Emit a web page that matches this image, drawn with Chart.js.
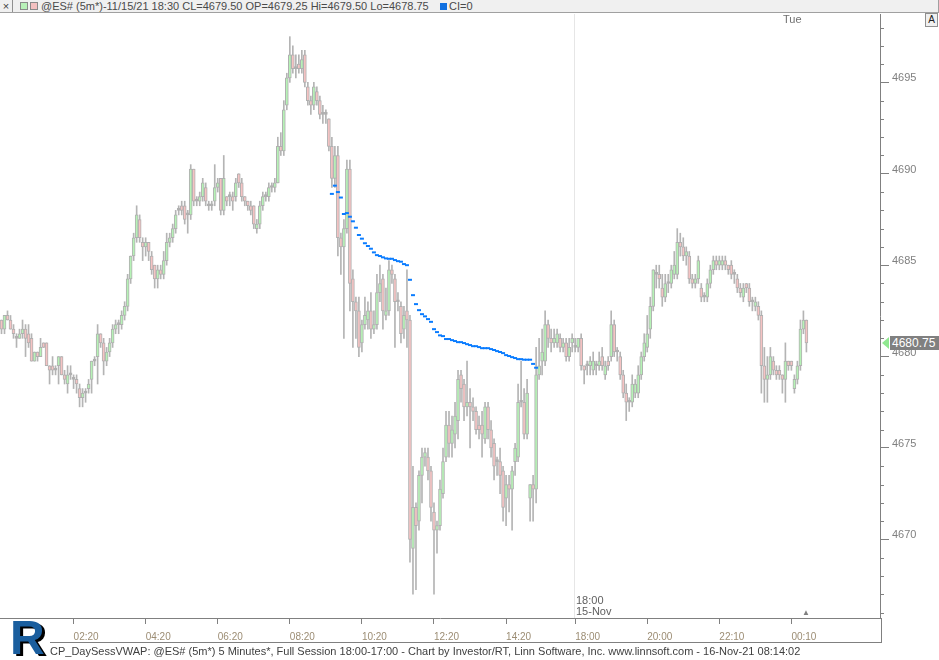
<!DOCTYPE html>
<html>
<head>
<meta charset="utf-8">
<title>@ES# 5 Minutes</title>
<script src="https://cdn.jsdelivr.net/npm/chart.js@4.4.0/dist/chart.umd.min.js"></script>
<style>
body { margin: 0; background: #fff; font-family: "Liberation Sans", Arial, sans-serif; }
#wrap { position: relative; width: 939px; height: 660px; overflow: hidden; }
#chart { position: absolute; left: 0; top: 0; }
.abs { position: absolute; white-space: nowrap; }
#hdr { left: 0; top: 0; width: 938px; height: 12px; background: #f0f0f0; border-bottom: 1px solid #a0a0a0; border-right: 1px solid #a0a0a0; }
#xbox { left: 0; top: 0; width: 12px; height: 12px; border-right: 1px solid #909090; font-size: 11px; line-height: 12px; text-align: center; color: #404040; }
.sq { top: 2px; width: 6px; height: 6px; border: 1px solid #8a8a8a; }
#htext { left: 41px; top: 0; font-size: 11px; line-height: 12px; color: #4a4a4a; }
#ci { left: 449px; top: 0; font-size: 11px; line-height: 12px; color: #4a4a4a; }
#abtn { left: 925px; top: 13px; width: 11px; height: 12px; border: 1px solid #909090; background: #f0f0f0; font-size: 10px; line-height: 12px; text-align: center; color: #202020; }
#tue { left: 783px; top: 13px; font-size: 11px; color: #707070; }
.sess { left: 576px; font-size: 11px; color: #606060; }
#tag { left: 890px; width: 49px; height: 14px; background: #808080; color: #fff; font-size: 12px; line-height: 14px; padding-left: 2px; }
#tri { left: 882px; width: 0; height: 0; border-top: 6px solid transparent; border-bottom: 6px solid transparent; border-right: 7px solid #90e890; }
#axbox { left: 50px; top: 618px; width: 831px; height: 24px; border-right: 1px solid #808080; border-bottom: 1px solid #808080; }
#footer { left: 50px; top: 645px; font-size: 11px; color: #404040; }
#logo { left: 10px; top: 614px; font-size: 48px; font-weight: bold; color: #1a5e9e; text-shadow: 3px 2px 0 #000; line-height: 48px; }
#mark { left: 802px; top: 608px; font-size: 8px; color: #808080; }
</style>
</head>
<body>
<div id="wrap">
  <canvas id="chart" width="939" height="660"></canvas>
  <div id="hdr" class="abs"></div>
  <div id="xbox" class="abs">×</div>
  <div class="abs sq" style="left:20px;background:#b8f0b8"></div>
  <div class="abs sq" style="left:30px;background:#f4c0c0"></div>
  <div id="htext" class="abs">@ES# (5m*)-11/15/21 18:30 CL=4679.50 OP=4679.25 Hi=4679.50 Lo=4678.75</div>
  <div class="abs" style="left:440px;top:3px;width:7px;height:7px;background:#1070e0"></div>
  <div id="ci" class="abs">CI=0</div>
  <div id="abtn" class="abs">A</div>
  <div id="tue" class="abs">Tue</div>
  <div class="abs sess" style="top:594px">18:00</div>
  <div class="abs sess" style="top:605px">15-Nov</div>
  <div id="mark" class="abs">▲</div>
  <div id="tri" class="abs"></div>
  <div id="tag" class="abs"></div>
  <div id="axbox" class="abs"></div>
  <div id="logo" class="abs">R</div>
  <div id="footer" class="abs">CP_DaySessVWAP: @ES# (5m*) 5 Minutes*, Full Session 18:00-17:00 - Chart by Investor/RT, Linn Software, Inc. www.linnsoft.com - 16-Nov-21 08:14:02</div>
</div>
<script>
// session blocks of 5 minute bars: start time and bar count
const sessionStarts = ['00:20', '18:00', '20:15'];
const sessionBars = [191, 25, 77];
const tickLabels = ['02:20', '04:20', '06:20', '08:20', '10:20', '12:20', '14:20', '18:00', '20:00', '22:10', '00:10'];

const open = [
4682, 4681.5, 4682.25, 4682, 4681.5, 4681, 4681, 4681.25, 4681.5, 4681.25,
4681, 4679.75, 4680.25, 4680, 4680.75, 4680.75, 4679.5, 4679.5, 4679.25, 4679.5,
4680, 4679, 4678.5, 4679, 4678.75, 4678.75, 4678.25, 4677.75, 4678, 4678.25,
4678.75, 4679.75, 4680, 4681.25, 4680.75, 4679.75, 4680.25, 4680.75, 4681.5, 4681.75,
4681.75, 4682.25, 4682.75, 4684.25, 4685.5, 4686.5, 4687.5, 4686.25, 4686, 4686.25,
4685.5, 4685, 4684.25, 4684.75, 4684.5, 4685.25, 4686.25, 4686.5, 4687, 4688,
4688.25, 4688.25, 4687.75, 4687.75, 4690.25, 4688.5, 4688.5, 4688.75, 4689.25, 4688.25,
4688.25, 4688.5, 4689.25, 4689.75, 4688, 4688.75, 4688.75, 4688.75, 4688.75, 4690,
4689.5, 4688.75, 4688.5, 4688.25, 4688.25, 4687, 4687.25, 4688.25, 4688.75, 4688.75,
4689.25, 4689.25, 4689.5, 4691.5, 4691.25, 4693.75, 4695.25, 4696.5, 4695.75, 4696,
4695.75, 4696.5, 4694.75, 4694, 4693.75, 4694.5, 4694, 4693.25, 4693.25, 4693,
4691.5, 4689.75, 4691, 4686.5, 4686, 4687, 4690.25, 4684.25, 4683, 4682.5,
4680.75, 4681.75, 4682, 4682.5, 4681.5, 4681.75, 4683.5, 4684.25, 4682.25, 4682.5,
4684.75, 4684.25, 4683, 4682.75, 4681.5, 4682.5, 4682, 4669.5, 4671.75, 4671,
4673.5, 4674.5, 4674.5, 4673.75, 4671.5, 4670.5, 4670.75, 4672.5, 4674.5, 4676.25,
4675.25, 4675.75, 4676.5, 4679, 4678.5, 4677.25, 4677.5, 4677.25, 4677, 4676.25,
4676.25, 4675.5, 4677.25, 4676, 4675.25, 4674.25, 4674.25, 4673.75, 4672.25, 4673,
4672.75, 4674.25, 4674.5, 4677.5, 4677.5, 4675.75, 4672.25, 4673, 4672.75, 4679,
4679.75, 4679.75, 4681.75, 4681, 4680.75, 4680.75, 4681, 4680.5, 4680.75, 4680,
4680.75, 4680.5, 4680.5, 4681, 4679.5, 4679.5, 4679.5, 4679.25, 4679.5, 4679.5,
4680, 4679, 4679.75, 4680, 4681.75, 4680.25, 4680, 4679, 4678, 4677.5,
4677.5, 4678, 4678, 4679, 4680, 4680.5, 4681.5, 4682.75, 4684.5, 4684.5,
4683.75, 4683.25, 4684, 4684, 4684.5, 4684.5, 4686.25, 4686, 4685.5, 4685.5,
4684.25, 4684, 4684.25, 4683.75, 4683.25, 4683.25, 4684, 4684.75, 4685.25, 4685,
4685, 4685.25, 4685, 4685, 4684.5, 4684.25, 4683.75, 4683.25, 4684, 4683.75,
4683, 4682.75, 4682.75, 4682.25, 4679.5, 4678.75, 4679, 4679.75, 4679.25, 4679.25,
4679, 4678.75, 4679.75, 4679.75, 4678.25, 4678.75, 4679.5, 4681.5, 4682
];
const high = [
4682, 4682.25, 4682.5, 4682.25, 4681.75, 4681.25, 4681.5, 4682, 4681.75, 4681.75,
4681.25, 4680.25, 4680.25, 4681, 4680.75, 4680.75, 4679.5, 4680, 4679.5, 4680,
4680, 4679.25, 4679.5, 4679.5, 4679, 4679, 4678.5, 4678.25, 4678.25, 4678.75,
4679.75, 4680, 4681.75, 4681.25, 4681, 4680.5, 4681, 4681.75, 4682, 4682,
4682.5, 4683, 4684.5, 4685.5, 4686.75, 4688.25, 4687.75, 4686.5, 4686.5, 4686.25,
4685.75, 4685, 4685, 4685, 4685.75, 4686.75, 4686.75, 4687.25, 4688, 4688.25,
4688.5, 4688.5, 4688, 4690.5, 4690.25, 4688.75, 4689, 4689.75, 4689.5, 4688.5,
4688.5, 4690.5, 4689.75, 4689.75, 4691, 4688.75, 4689, 4689, 4689.75, 4690,
4689.75, 4688.75, 4688.5, 4688.5, 4688.25, 4687.5, 4688.5, 4689, 4689, 4689.5,
4689.5, 4689.75, 4692, 4692.25, 4694, 4695.5, 4697.5, 4697, 4696.5, 4696.5,
4696.75, 4696.75, 4695, 4694.25, 4695, 4694.75, 4694.25, 4693.75, 4693.5, 4693,
4692, 4691.5, 4691.5, 4686.75, 4687.5, 4690.75, 4690.75, 4684.75, 4683.25, 4683.25,
4682, 4683.25, 4683, 4683.5, 4682.5, 4684.5, 4685, 4684.5, 4683.75, 4685.25,
4685, 4684.5, 4683.5, 4683, 4682.75, 4684.75, 4682.25, 4674, 4672, 4673.75,
4675, 4675, 4675, 4674, 4672, 4671, 4673.25, 4675, 4677, 4677,
4676.75, 4677.5, 4679.25, 4679.25, 4678.75, 4679.75, 4678.25, 4677.75, 4677.25, 4676.75,
4677, 4677.5, 4677.5, 4676.5, 4675.5, 4674.5, 4675, 4674, 4673.5, 4673.5,
4674, 4675.25, 4678.5, 4679.75, 4678.25, 4678.75, 4673, 4673.5, 4680.5, 4681,
4681.5, 4682.5, 4682, 4681.5, 4681.5, 4681.5, 4681.25, 4681, 4681, 4681,
4681.25, 4681, 4681, 4681.25, 4679.5, 4679.75, 4680, 4680.25, 4679.75, 4680.25,
4680.5, 4679.75, 4680, 4682.5, 4682, 4680.5, 4680.25, 4679.25, 4678.5, 4677.75,
4679, 4678.75, 4679.5, 4680.25, 4681.25, 4682.25, 4683.25, 4684.75, 4685, 4685,
4684.5, 4684.5, 4684.5, 4685, 4685.75, 4687, 4686.75, 4686.5, 4686, 4685.75,
4684.5, 4684.5, 4685.5, 4684, 4683.5, 4684.25, 4685, 4685.5, 4685.5, 4685.5,
4685.5, 4685.5, 4685, 4685.25, 4684.75, 4684.5, 4684, 4684, 4684, 4684,
4683.25, 4683.25, 4683, 4682.5, 4680.5, 4680, 4680.5, 4680, 4679.5, 4679.5,
4679, 4680.75, 4679.75, 4679.75, 4679, 4679.75, 4682, 4682.5, 4682
];
const low = [
4681.25, 4681.25, 4682, 4681.5, 4681, 4680.5, 4681, 4681, 4680, 4680.5,
4679.75, 4679.75, 4679.75, 4680, 4680.5, 4679.5, 4678.5, 4679, 4679, 4678.5,
4679, 4678.5, 4678, 4678.75, 4678.25, 4678, 4677.25, 4677.25, 4677.5, 4678,
4678, 4679.5, 4678.5, 4680.5, 4679, 4679.5, 4680, 4680.5, 4681.25, 4681.25,
4681.5, 4682, 4682.5, 4684, 4685.25, 4686.25, 4686.25, 4685.25, 4685.5, 4685.25,
4684.5, 4683.75, 4683.75, 4684.25, 4684.25, 4685, 4686, 4686.25, 4686.75, 4687.75,
4687.75, 4687.25, 4686.75, 4687.5, 4688.25, 4688.25, 4688.25, 4688.5, 4688.25, 4688,
4688, 4688.25, 4689, 4687.75, 4687.75, 4688.25, 4688.25, 4688, 4688.5, 4689.25,
4688.5, 4688.25, 4688, 4687.75, 4687, 4686.75, 4687, 4688, 4688.5, 4688.5,
4689, 4689, 4689.5, 4691, 4691, 4693.5, 4695, 4695.5, 4695.25, 4695.5,
4695.5, 4694.75, 4693.75, 4693.25, 4693.5, 4693.75, 4693, 4692.75, 4692.75, 4691.25,
4689.25, 4689.25, 4685.5, 4684.5, 4681, 4686.75, 4682.5, 4680.5, 4681, 4680,
4680.25, 4681.5, 4681.5, 4681, 4681.25, 4681.5, 4683, 4681.5, 4682, 4682.25,
4684, 4680.5, 4682.5, 4680.75, 4681, 4680.5, 4668.75, 4667, 4667.25, 4670.5,
4672, 4674, 4673.25, 4671, 4667, 4669.25, 4670.5, 4672.25, 4674.25, 4674.5,
4674.5, 4675, 4675.5, 4677.5, 4676.5, 4676.75, 4675, 4676.5, 4675.75, 4675.5,
4674.5, 4675.25, 4675.5, 4674.5, 4673.25, 4673.5, 4672.5, 4671, 4670.75, 4671.5,
4670.5, 4673.5, 4674.25, 4677.25, 4675.5, 4675.5, 4671, 4671, 4672, 4678.75,
4679, 4679.5, 4680.5, 4680.25, 4680.5, 4680.5, 4680.25, 4680.25, 4679.75, 4679.75,
4680.25, 4680.25, 4680.25, 4679.25, 4678.5, 4679, 4679, 4679, 4679, 4679.25,
4679.25, 4678.75, 4679.25, 4679.75, 4680, 4679.75, 4678.75, 4677.75, 4676.5, 4677,
4677.25, 4677.75, 4677.75, 4678.75, 4679.75, 4680.25, 4681, 4682.5, 4683.75, 4683.75,
4682.75, 4683, 4683.5, 4683.75, 4684.25, 4684.25, 4685.5, 4685.25, 4685, 4684,
4683.75, 4683.75, 4684, 4683, 4683, 4683, 4683.75, 4684.5, 4684.75, 4684.75,
4684.75, 4684.75, 4684.5, 4684.25, 4684, 4683.5, 4683.25, 4683, 4683.5, 4682.75,
4682.5, 4682.5, 4682, 4678, 4677.5, 4677.5, 4678.75, 4679, 4678.75, 4678.75,
4678, 4677.5, 4679.25, 4679.25, 4678, 4678.5, 4679.25, 4681.25, 4680.25
];
const close = [
4681.5, 4682.25, 4682, 4681.5, 4681.25, 4681, 4681.25, 4681.5, 4681, 4680.75,
4679.75, 4680.25, 4680, 4680.5, 4680.5, 4679.5, 4679.25, 4679.25, 4679.25, 4680,
4679, 4678.75, 4679, 4679, 4678.75, 4678.5, 4677.75, 4678, 4678, 4678.5,
4679.75, 4679.75, 4681.25, 4680.75, 4679.75, 4680.25, 4680.75, 4681.5, 4681.75, 4681.75,
4682.25, 4682.75, 4684.25, 4685.5, 4686.5, 4687.75, 4686.5, 4686, 4686.25, 4685.75,
4684.75, 4684.25, 4684.75, 4684.5, 4685.25, 4686.25, 4686.5, 4687, 4687.75, 4688,
4688, 4687.5, 4687.75, 4690.25, 4688.5, 4688.5, 4688.75, 4689.5, 4688.5, 4688.25,
4688.25, 4689.25, 4689.5, 4688, 4689.75, 4688.5, 4688.75, 4688.5, 4689.5, 4689.5,
4688.75, 4688.5, 4688.25, 4688, 4687.25, 4687.25, 4688.25, 4688.75, 4688.75, 4689.25,
4689.25, 4689.5, 4691.5, 4691.25, 4693.5, 4695.25, 4696.5, 4695.75, 4695.75, 4695.75,
4696.25, 4695, 4694, 4693.75, 4694.75, 4694, 4693.25, 4693.25, 4693.25, 4691.5,
4689.75, 4691, 4686.5, 4686, 4687, 4690.25, 4684, 4683, 4682.5, 4680.5,
4681.75, 4682.25, 4682.5, 4681.5, 4681.75, 4683.5, 4684, 4682.5, 4682.5, 4684.75,
4684.5, 4683, 4683, 4681.25, 4682.25, 4682, 4670, 4671.75, 4670.75, 4673.5,
4674.5, 4674.75, 4673.75, 4671.75, 4670.5, 4670.75, 4672.75, 4674.25, 4676.25, 4675.25,
4676, 4676.75, 4678.75, 4678.25, 4677.25, 4677.5, 4677.25, 4677, 4676, 4676,
4675.75, 4677.25, 4676, 4675, 4674, 4674.25, 4673.5, 4671.75, 4673, 4672.75,
4673.75, 4675, 4677.5, 4677.5, 4675.75, 4678, 4673, 4672.75, 4679, 4679.5,
4680.25, 4681.75, 4681, 4680.75, 4681, 4681.25, 4680.5, 4680.75, 4680, 4680.5,
4681, 4680.5, 4681, 4679.5, 4679.25, 4679.5, 4679.75, 4679.75, 4679.5, 4679.75,
4679.5, 4679.5, 4679.5, 4681.75, 4680.25, 4680.25, 4679, 4678, 4677.5, 4677.5,
4678.5, 4678.5, 4679, 4680, 4680.75, 4681.25, 4682.75, 4684.75, 4684.5, 4684.25,
4683.25, 4684, 4684, 4684.75, 4685, 4686.25, 4686, 4685.5, 4685.75, 4684.25,
4684, 4684.25, 4685.25, 4683.25, 4683.25, 4684, 4684.75, 4685.25, 4685, 4685.25,
4685.25, 4685, 4684.75, 4684.5, 4684.5, 4683.75, 4683.5, 4683.75, 4683.75, 4683,
4683, 4683, 4682.25, 4679.5, 4678.75, 4679, 4680, 4679.25, 4679, 4679,
4678.75, 4679.75, 4679.5, 4679.5, 4678.75, 4679.5, 4681.5, 4682, 4680.75
];

// day session VWAP, starts at bar 110
const vwapStart = 110;
const vwap = [
4688.9, 4689.35, 4689.0, 4688.7, 4687.8, 4687.85, 4687.65, 4687.4, 4687.05, 4686.65,
4686.45, 4686.2, 4686.05, 4685.9, 4685.7, 4685.55, 4685.5, 4685.43, 4685.37, 4685.35,
4685.35, 4685.28, 4685.22, 4685.19, 4685.06, 4685.0, 4684.2, 4683.36, 4682.87, 4682.54,
4682.32, 4682.2, 4682.05, 4681.9, 4681.5, 4681.34, 4681.16, 4681.12, 4680.96, 4680.96,
4680.9, 4680.85, 4680.79, 4680.79, 4680.74, 4680.68, 4680.63, 4680.57, 4680.57, 4680.52,
4680.46, 4680.46, 4680.46, 4680.41, 4680.36, 4680.3, 4680.25, 4680.19, 4680.08, 4680.03,
4679.97, 4679.92, 4679.86, 4679.86, 4679.83, 4679.83, 4679.83, 4679.6, 4679.39
];

const Y_MIN = 4665.7;
const Y_MAX = 4698.74;
const UP_FILL = '#b6f2b6';
const DOWN_FILL = '#f5c3c3';
const EDGE = '#b0b0b0';
const AXIS = '#808080';

const labels = [];
sessionStarts.forEach((s, k) => {
    let m = parseInt(s.slice(0, 2)) * 60 + parseInt(s.slice(3));
    for (let i = 0; i < sessionBars[k]; i++) {
        const t = m % 1440;
        labels.push(String(Math.floor(t / 60)).padStart(2, '0') + ':' + String(t % 60).padStart(2, '0'));
        m += 5;
    }
});

const bodies = open.map((o, i) => [o, close[i]]);
const wicks = low.map((l, i) => [l, high[i]]);
const bodyColors = open.map((o, i) => close[i] > o ? UP_FILL : (close[i] < o ? DOWN_FILL : EDGE));
const vwapData = labels.map((l, i) => (i >= vwapStart && i < vwapStart + vwap.length) ? vwap[i - vwapStart] : null);

const extras = {
    id: 'extras',
    beforeDatasetsDraw(chart) {
        const c = chart.ctx, a = chart.chartArea, x = chart.scales.x;
        // session break at 18:00
        const px = Math.round(x.getPixelForValue(labels.indexOf('18:00')) - 1.5) + 0.5;
        c.save();
        c.strokeStyle = '#e6e6e6';
        c.lineWidth = 1;
        c.beginPath();
        c.moveTo(px, a.top);
        c.lineTo(px, a.bottom);
        c.stroke();
        c.restore();
    },
    afterDraw(chart) {
        const c = chart.ctx, a = chart.chartArea, y = chart.scales.y;
        // minor price ticks every point
        c.save();
        c.strokeStyle = AXIS;
        c.lineWidth = 1;
        for (let v = Math.ceil(Y_MIN); v <= Y_MAX; v++) {
            if (v % 5 === 0) continue;
            const py = Math.round(y.getPixelForValue(v)) + 0.5;
            c.beginPath();
            c.moveTo(a.right, py);
            c.lineTo(a.right + 4, py);
            c.stroke();
        }
        c.restore();
    }
};

const ctx = document.getElementById('chart');
const chart = new Chart(ctx, {
    type: 'bar',
    data: {
        labels: labels,
        datasets: [
            {
                type: 'line',
                label: 'VWAP',
                data: vwapData,
                showLine: false,
                pointStyle: 'line',
                pointRadius: 2,
                pointBorderWidth: 2,
                borderColor: '#0a7cff',
                backgroundColor: '#0a7cff',
                order: 0
            },
            {
                label: 'body',
                data: bodies,
                backgroundColor: bodyColors,
                borderColor: EDGE,
                borderWidth: 1,
                borderSkipped: false,
                barThickness: 3,
                minBarLength: 2,
                grouped: false,
                order: 1
            },
            {
                label: 'wick',
                data: wicks,
                backgroundColor: '#b4b4b4',
                barThickness: 1,
                grouped: false,
                order: 2
            }
        ]
    },
    options: {
        responsive: false,
        animation: false,
        devicePixelRatio: 1,
        layout: { autoPadding: false, padding: { top: 14, left: 0, right: 0, bottom: 0 } },
        plugins: { legend: { display: false }, tooltip: { enabled: false } },
        scales: {
            x: {
                type: 'category',
                offset: true,
                grid: { drawOnChartArea: false, offset: false, tickLength: 6, color: AXIS },
                border: { color: AXIS },
                ticks: {
                    autoSkip: false,
                    maxRotation: 0,
                    align: 'start',
                    padding: 7,
                    color: '#9c8d74',
                    font: { family: 'Liberation Sans', size: 10 },
                    callback: function (value, index) {
                        const lab = this.getLabelForValue(value);
                        return (index < open.length && tickLabels.includes(lab)) ? lab : null;
                    }
                },
                afterFit: (s) => { s.height = 42; s.paddingLeft = 0; s.paddingRight = 0; }
            },
            y: {
                type: 'linear',
                position: 'right',
                min: Y_MIN,
                max: Y_MAX,
                grid: { drawOnChartArea: false, tickLength: 9, color: AXIS },
                border: { color: AXIS },
                ticks: {
                    stepSize: 5,
                    includeBounds: false,
                    padding: 3,
                    labelOffset: -4,
                    color: AXIS,
                    font: { family: 'Liberation Sans', size: 11 },
                    callback: (v) => String(v)
                },
                afterFit: (s) => { s.width = 59; }
            }
        }
    },
    plugins: [extras]
});

// last price marker on the price axis
const lastY = chart.scales.y.getPixelForValue(close[close.length - 1]);
const tag = document.getElementById('tag');
tag.textContent = close[close.length - 1].toFixed(2);
tag.style.top = Math.round(lastY - 7) + 'px';
document.getElementById('tri').style.top = Math.round(lastY - 6) + 'px';
</script>
</body>
</html>
